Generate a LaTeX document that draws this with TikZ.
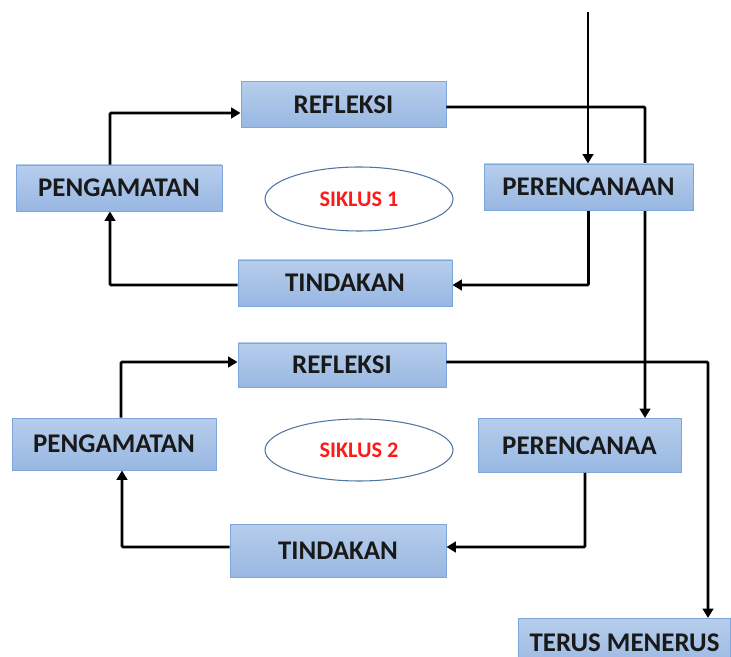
\documentclass[tikz,border=0pt]{standalone}
\usepackage{fontspec}
\setmainfont{Carlito}
\usetikzlibrary{arrows.meta,shapes.geometric}
\definecolor{boxtop}{HTML}{B7CEEC}
\definecolor{boxbot}{HTML}{98B7E2}
\definecolor{boxline}{HTML}{7EA6DA}
\definecolor{elline}{HTML}{4F76A3}
\definecolor{sikred}{HTML}{FF1A1A}
\begin{document}
\begin{tikzpicture}[x=0.03cm,y=-0.03cm,
  stagebox/.style={rectangle, draw=boxline, line width=0.8pt, top color=boxtop, bottom color=boxbot,
    minimum width=#1*0.03cm, minimum height=46*0.03cm, inner sep=0pt,
    font=\fontsize{23}{26}\selectfont\bfseries, text=black!90},
  stagebox/.default=206,
  cyc/.style={ellipse, draw=elline, line width=0.9pt, fill=white, minimum width=188*0.03cm,
    minimum height=64*0.03cm, inner sep=0pt, font=\fontsize{19}{22}\selectfont\bfseries, text=sikred},
  flow/.style={line width=2.4pt, -{Triangle[width=9pt,length=8pt]}, rounded corners=1pt}]
\useasboundingbox (0,0) rectangle (731,657);
\coordinate (start) at (588,12);
\node[stagebox=209] (per1) at (588.5,187) {PERENCANAAN};
\node[stagebox=203, minimum height=54*0.03cm] (per2) at (579.5,445.5) {PERENCANAA};
\node[stagebox=205] (ref1) at (343.5,104.5) {REFLEKSI};
\node[stagebox=206] (pen1) at (119,188) {PENGAMATAN};
\node[stagebox=214] (tin1) at (345,283) {TINDAKAN};
\node[stagebox=208, minimum height=44*0.03cm] (ref2) at (342,365) {REFLEKSI};
\node[stagebox=204, minimum height=52*0.03cm] (pen2) at (114,444) {PENGAMATAN};
\node[stagebox=216, minimum height=53*0.03cm] (tin2) at (338,550.5) {TINDAKAN};
\node[stagebox=212, minimum height=52*0.03cm, anchor=north west] (terus) at (518,618) {\raisebox{0.3ex}{TERUS MENERUS}};
\node[cyc] (s1) at (359,199) {SIKLUS 1};
\node[cyc, minimum height=62*0.03cm] (s2) at (359,450) {SIKLUS 2};

% arrows
\draw[flow, line width=2pt] (start) -- (per1.north -| start);
\draw[flow] (per1.south) |- (tin1.east |- 0,285);
\draw[flow] (tin1.west |- 0,285) -| (110,0 |- pen1.south);
\draw[flow] (110,0 |- pen1.north) |- (ref1.west |- 0,113);
\draw[flow] (pen2.north -| 121,0) |- (ref2.west |- 0,362);
\draw[flow] (per2.south -| 585,0) |- (tin2.east |- 0,547);
\draw[flow] (tin2.west |- 0,547) -| (122,0 |- pen2.south);
\draw[flow] (ref2.east |- 0,362) -| (terus.north -| 708,0);
% long arrow passing behind PERENCANAAN 1
\draw[flow] (ref1.east |- 0,107) -| (per2.north -| 645,0);
\node[stagebox=209] at (per1) {PERENCANAAN};
\end{tikzpicture}
\end{document}
